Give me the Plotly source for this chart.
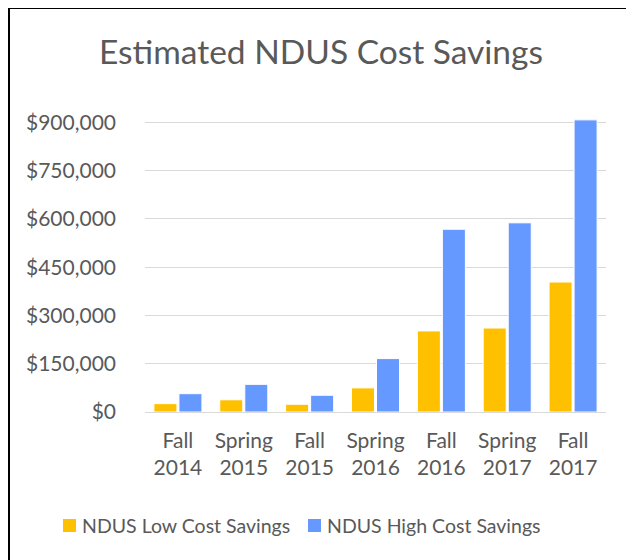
import plotly.graph_objects as go

categories = ["Fall<br>2014", "Spring<br>2015", "Fall<br>2015", "Spring<br>2016",
              "Fall<br>2016", "Spring<br>2017", "Fall<br>2017"]
low_savings = [26000, 38000, 24000, 75000, 252000, 261000, 404000]
high_savings = [57000, 86000, 52000, 166000, 568000, 588000, 908000]
tick_values = [0, 150000, 300000, 450000, 600000, 750000, 900000]
tick_labels = ["$0", "$150,000", "$300,000", "$450,000", "$600,000", "$750,000", "$900,000"]
series_names = ["NDUS Low Cost Savings", "NDUS High Cost Savings"]
series_colors = ["#FFC000", "#6699FF"]

FONT = "Lato"
GRAY = "#595959"
OFF = 8  # page body margin offset

fig = go.Figure()
for vals, name, col in zip([low_savings, high_savings], series_names, series_colors):
    fig.add_trace(go.Bar(x=categories, y=vals, name=name,
                         marker=dict(color=col, line=dict(color="white", width=1))))

W, H = 634, 560
L = 145 - OFF
R = W - (606 - OFF)
T = 116 - OFF
B = H - (412 - OFF)
pw, ph = W - L - R, H - T - B

def px_x(p):
    return (p - OFF - L) / pw

def px_y(p):
    return (H - B - (p - OFF)) / ph

shapes = [
    dict(type="line", xref="paper", yref="paper",
         x0=px_x(8), x1=px_x(660), y0=px_y(8), y1=px_y(8),
         line=dict(color="black", width=2)),
    dict(type="line", xref="paper", yref="paper",
         x0=px_x(9), x1=px_x(9), y0=px_y(8), y1=px_y(590),
         line=dict(color="black", width=2)),
]
annotations = []
legend_x = [63, 308]
for lx, name, col in zip(legend_x, series_names, series_colors):
    shapes.append(dict(type="rect", xref="paper", yref="paper",
                       x0=px_x(lx), x1=px_x(lx + 13), y0=px_y(532), y1=px_y(519),
                       fillcolor=col, line=dict(width=0)))
    annotations.append(dict(text=name, xref="paper", yref="paper",
                            x=px_x(lx + 17), y=px_y(525.5), xanchor="left", yanchor="middle",
                            showarrow=False,
                            font=dict(size=19.5, color=GRAY, family=FONT)))

fig.update_layout(
    width=W, height=H,
    margin=dict(l=L, r=R, t=T, b=B),
    paper_bgcolor="white", plot_bgcolor="white",
    font=dict(family=FONT, color=GRAY),
    title=dict(text="Estimated NDUS Cost Savings", x=(321 - OFF) / W, xanchor="center",
               y=1 - (52 - OFF) / H, yanchor="middle", xref="container", yref="container",
               font=dict(size=33.5, color=GRAY, family=FONT)),
    barmode="group", bargap=0.24, bargroupgap=0.08,
    showlegend=False,
    xaxis=dict(showgrid=False, showline=False, ticks="", ticklabelstandoff=14,
               tickfont=dict(size=21, color=GRAY, family=FONT)),
    yaxis=dict(range=[0, 920000], tickvals=tick_values, ticktext=tick_labels,
               showgrid=True, gridcolor="#D9D9D9", gridwidth=1,
               zeroline=True, zerolinecolor="#D9D9D9", zerolinewidth=1,
               showline=False, ticks="", ticklabelstandoff=28,
               tickfont=dict(size=21, color=GRAY, family=FONT)),
    shapes=shapes,
    annotations=annotations,
)

fig.write_html("out.html")
